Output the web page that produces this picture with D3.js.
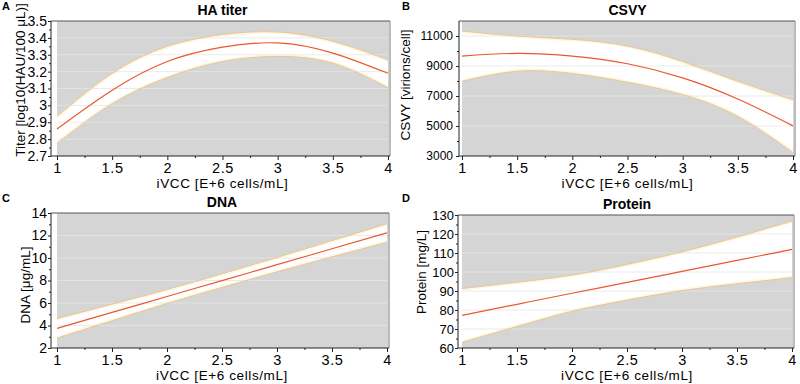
<!DOCTYPE html>
<html>
<head>
<meta charset="utf-8">
<script src="https://cdn.jsdelivr.net/npm/d3@7/dist/d3.min.js"></script>
<style>
  body { margin: 0; background: #fff; }
  text { font-family: Arial, "Liberation Sans", sans-serif; }
</style>
</head>
<body>
<svg id="chart" width="800" height="384"></svg>
<script>
// valores (iVCC en E+6 cells/mL)
const ivcc = [1, 1.5, 2, 2.5, 3, 3.5, 4];
const xTicks = [1, 1.5, 2, 2.5, 3, 3.5, 4];

// A - HA titer
const haFit   = [2.86, 3.09, 3.26, 3.345, 3.37, 3.31, 3.19];
const haUpper = [2.935, 3.19, 3.35, 3.42, 3.435, 3.38, 3.27];
const haLower = [2.775, 3.01, 3.165, 3.26, 3.29, 3.25, 3.105];
const haTicks = [2.7, 2.8, 2.9, 3, 3.1, 3.2, 3.3, 3.4, 3.5];

// B - CSVY
const csvyFit   = [9660, 9840, 9660, 9150, 8210, 6800, 5010];
const csvyUpper = [11330, 11000, 10780, 10330, 9300, 7980, 6750];
const csvyLower = [7980, 8650, 8500, 7920, 7090, 5640, 3220];
const csvyTicks = [3000, 5000, 7000, 9000, 11000];

// C - DNA
const dnaFit   = [3.75, 5.16, 6.58, 7.99, 9.41, 10.82, 12.24];
const dnaUpper = [4.62, 5.9, 7.2, 8.6, 10.05, 11.55, 13.05];
const dnaLower = [2.88, 4.42, 5.95, 7.38, 8.77, 10.1, 11.4];
const dnaTicks = [2, 4, 6, 8, 10, 12, 14];

// D - Protein
const protFit   = [77.2, 83.0, 88.8, 94.5, 100.3, 106.1, 111.9];
const protUpper = [91.3, 94.6, 98.4, 104, 110.6, 118.4, 126.8];
const protLower = [63, 71.3, 79.3, 85.2, 90.2, 93.8, 97];
const protTicks = [60, 70, 80, 90, 100, 110, 120, 130];

const svg = d3.select("#chart");

const paneles = [
  { letra: "A", titulo: "HA titer", yTitulo: "Titer [log10(HAU/100 \u03BCL)]",
    fit: haFit, upper: haUpper, lower: haLower, ticks: haTicks, yDom: [2.7, 3.5], yFont: 14, yPad: 1,
    ox: 0, oy: 0, axisX: 51, x0: 57, x1: 388, top: 21, bottom: 156, tx: 25, ty: 80 },
  { letra: "B", titulo: "CSVY", yTitulo: "CSVY [virions/cell]",
    fit: csvyFit, upper: csvyUpper, lower: csvyLower, ticks: csvyTicks, yDom: [3000, 12000], yFont: 12, yPad: 3,
    ox: 400, oy: 0, axisX: 459, x0: 462, x1: 793, top: 21, bottom: 156, tx: 410, ty: 85 },
  { letra: "C", titulo: "DNA", yTitulo: "DNA [\u03BCg/mL]",
    fit: dnaFit, upper: dnaUpper, lower: dnaLower, ticks: dnaTicks, yDom: [2, 14], yFont: 14, yPad: 1,
    ox: 0, oy: 192, axisX: 51, x0: 57, x1: 387, top: 213, bottom: 348, tx: 30, ty: 285 },
  { letra: "D", titulo: "Protein", yTitulo: "Protein [mg/L]",
    fit: protFit, upper: protUpper, lower: protLower, ticks: protTicks, yDom: [60, 130], yFont: 13, yPad: 1,
    ox: 400, oy: 192, axisX: 458, x0: 462, x1: 792, top: 215, bottom: 348, tx: 426, ty: 272 }
];

paneles.forEach((p, i) => dibujarPanel(p, i));

function mitades(arr) {
  const out = [];
  for (let i = 0; i < arr.length - 1; i++) out.push((arr[i] + arr[i + 1]) / 2);
  return out;
}

function dibujarPanel(p, idx) {
  const g = svg.append("g");
  const x = d3.scaleLinear().domain([1, 4]).range([p.x0, p.x1]);
  const y = d3.scaleLinear().domain(p.yDom).range([p.bottom, p.top]);

  const filas = ivcc.map((v, i) => ({ x: v, fit: p.fit[i], up: p.upper[i], lo: p.lower[i] }));

  // fondo gris
  g.append("rect")
    .attr("x", x(1)).attr("y", p.top)
    .attr("width", x(4) - x(1) + 1).attr("height", p.bottom - p.top)
    .attr("fill", "#d5d5d5");

  // banda de confianza
  const area = d3.area().curve(d3.curveNatural)
    .x(d => x(d.x)).y0(d => y(d.lo)).y1(d => y(d.up));
  const clipId = "clip" + idx;
  g.append("clipPath").attr("id", clipId).append("path").attr("d", area(filas));
  g.append("path").attr("d", area(filas)).attr("fill", "#ffffff");

  const lineaUp = d3.line().curve(d3.curveNatural).x(d => x(d.x)).y(d => y(d.up));
  const lineaLo = d3.line().curve(d3.curveNatural).x(d => x(d.x)).y(d => y(d.lo));
  const lineaFit = d3.line().curve(d3.curveNatural).x(d => x(d.x)).y(d => y(d.fit));

  // brillo amarillento en los bordes interiores
  [lineaUp, lineaLo].forEach(l => {
    g.append("path").attr("d", l(filas))
      .attr("clip-path", `url(#${clipId})`)
      .attr("fill", "none").attr("stroke", "#fff6de").attr("stroke-width", 4);
  });

  // líneas de rejilla
  g.selectAll("line.grid")
    .data(p.ticks.filter(t => t !== p.yDom[0] && t !== p.yDom[1]))
    .join("line")
    .attr("x1", x(1)).attr("x2", x(4))
    .attr("y1", d => y(d)).attr("y2", d => y(d))
    .attr("stroke", "#e6e6e6").attr("stroke-opacity", 0.8).attr("stroke-width", 1);

  [lineaUp, lineaLo].forEach(l => {
    g.append("path").attr("d", l(filas))
      .attr("fill", "none").attr("stroke", "#e6c497").attr("stroke-width", 1);
  });

  g.append("path").attr("d", lineaFit(filas))
    .attr("fill", "none").attr("stroke", "#e8582a").attr("stroke-width", 1.2);

  // marco
  g.append("line").attr("x1", p.axisX).attr("x2", x(4) + 2).attr("y1", p.top).attr("y2", p.top)
    .attr("stroke", "#555");
  g.append("line").attr("x1", x(4) + 2).attr("x2", x(4) + 2).attr("y1", p.top).attr("y2", p.bottom)
    .attr("stroke", "#777");
  g.append("line").attr("x1", p.axisX).attr("x2", x(4) + 2).attr("y1", p.bottom).attr("y2", p.bottom)
    .attr("stroke", "#222");
  g.append("line").attr("x1", p.axisX).attr("x2", p.axisX).attr("y1", p.top).attr("y2", p.bottom)
    .attr("stroke", "#222");

  // eje X
  const ejeX = g.append("g")
    .attr("transform", `translate(0,${p.bottom})`)
    .call(d3.axisBottom(x).tickValues(xTicks).tickSize(4).tickPadding(3).tickFormat(d3.format("~g")));
  ejeX.select(".domain").remove();
  ejeX.selectAll("line").attr("stroke", "#222");
  ejeX.selectAll("text").attr("font-family", null).style("font-size", "14.5px")
    .style("letter-spacing", "0.7px").attr("fill", "#000");

  const ejeXm = g.append("g")
    .attr("transform", `translate(0,${p.bottom})`)
    .call(d3.axisBottom(x).tickValues(mitades(xTicks)).tickSize(2).tickFormat(""));
  ejeXm.select(".domain").remove();
  ejeXm.selectAll("line").attr("stroke", "#222");

  // eje Y
  const ejeY = g.append("g")
    .attr("transform", `translate(${p.axisX},0)`)
    .call(d3.axisLeft(y).tickValues(p.ticks).tickSize(3).tickPadding(p.yPad).tickFormat(d3.format("~g")));
  ejeY.select(".domain").remove();
  ejeY.selectAll("line").attr("stroke", "#222");
  ejeY.selectAll("text").attr("font-family", null).style("font-size", p.yFont + "px").attr("fill", "#000");

  const ejeYm = g.append("g")
    .attr("transform", `translate(${p.axisX},0)`)
    .call(d3.axisLeft(y).tickValues(mitades(p.ticks)).tickSize(2).tickFormat(""));
  ejeYm.select(".domain").remove();
  ejeYm.selectAll("line").attr("stroke", "#222");

  const cx = (x(1) + x(4)) / 2;

  g.append("text")
    .attr("transform", `translate(${p.tx},${p.ty}) rotate(-90)`)
    .attr("text-anchor", "middle")
    .style("font-size", "13.5px")
    .text(p.yTitulo);

  g.append("text")
    .attr("x", cx).attr("y", p.bottom + 32)
    .attr("text-anchor", "middle")
    .style("font-size", "13.5px").style("letter-spacing", "0.6px")
    .text("iVCC [E+6 cells/mL]");

  g.append("text")
    .attr("x", cx).attr("y", p.top - 6)
    .attr("text-anchor", "middle")
    .style("font-size", "14px").style("font-weight", "bold")
    .text(p.titulo);

  g.append("text")
    .attr("x", p.ox + 2).attr("y", p.oy + 10)
    .style("font-size", "11px").style("font-weight", "bold")
    .text(p.letra);
}
</script>
</body>
</html>
